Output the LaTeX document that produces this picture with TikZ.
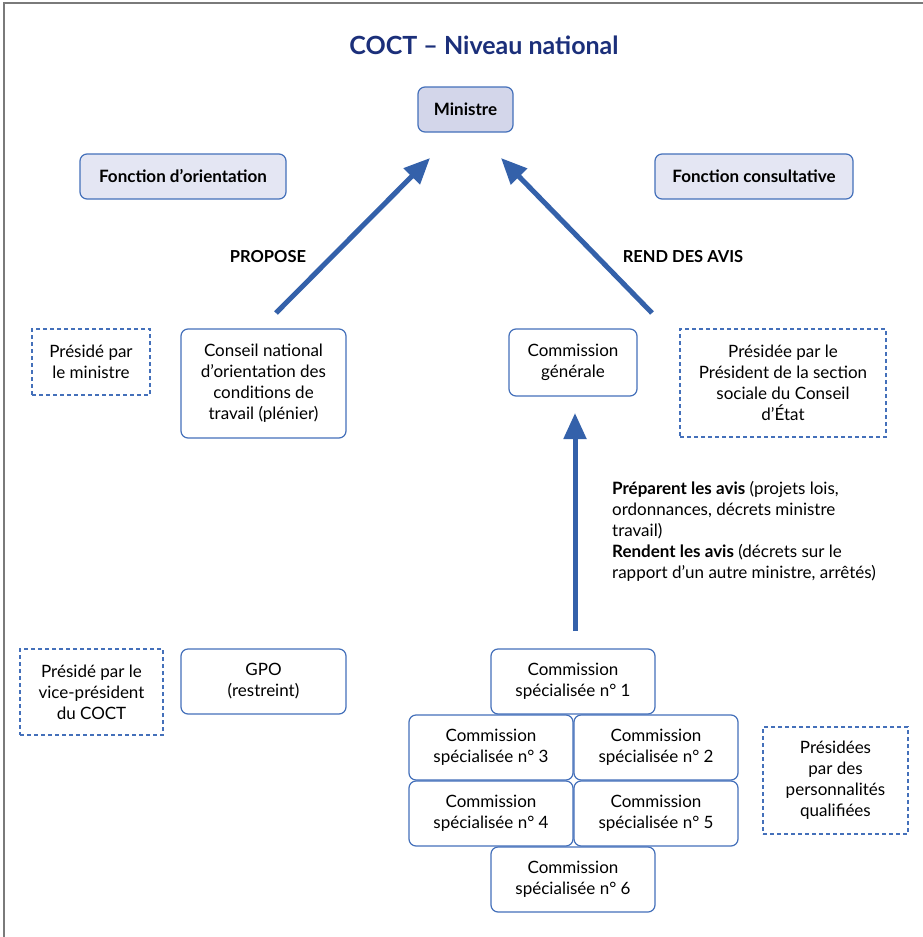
\documentclass[tikz,border=0pt]{standalone}
\usepackage{fontspec}
\setmainfont{Lato}
\usetikzlibrary{arrows.meta}
\definecolor{frameg}{HTML}{7A7A7A}
\definecolor{titleblue}{HTML}{1B2F7A}
\definecolor{boxblue}{HTML}{4470BA}
\definecolor{arrowblue}{HTML}{3461AA}
\definecolor{minfill}{HTML}{D3D6EA}
\definecolor{fonfill}{HTML}{E4E6F3}
\tikzset{
  base/.style={rounded corners=7pt, draw=boxblue, line width=1.2pt, align=center, inner sep=0pt,
    font=\fontsize{17}{21}\selectfont},
  solidbox/.style={base, fill=white},
  headbox/.style={base, fill=fonfill, font=\fontsize{17}{21}\selectfont\bfseries},
  dashbox/.style={draw=boxblue, line width=1.2pt, dash pattern=on 4pt off 3pt, align=center, inner sep=0pt,
    font=\fontsize{17}{21}\selectfont},
  bigarrow/.style={draw=arrowblue, line width=5pt, -{Triangle[width=22pt,length=26pt]}},
  lbl/.style={font=\fontsize{16.5}{20}\selectfont\bfseries, inner sep=0pt}
}
\newcommand{\bx}[6]{\node[#1, minimum width=#4-#2, minimum height=#5-#3] (#6) at ({(#2+#4)/2},{(#3+#5)/2})}
\begin{document}
\begin{tikzpicture}[x=1pt,y=-1pt]
\useasboundingbox (0,0) rectangle (923,937);
\fill[white] (0,0) rectangle (923,937);
\draw[frameg, line width=2pt] (4,937) -- (4,3) -- (923,3);

\node[font=\fontsize{25}{30}\selectfont\bfseries, text=titleblue] (title) at (484,45) {COCT – Niveau national};

\bx{headbox, fill=minfill}{418}{87}{513}{132}{min} {Ministre};
\bx{headbox}{80}{154}{286}{199}{fo} {Fonction d’orientation};
\bx{headbox}{655}{154}{853}{199}{fc} {Fonction consultative};

\bx{dashbox}{32}{329}{150}{395}{pm} {Présidé par\\le ministre};
\bx{solidbox}{181}{329}{346}{438}{cn} {Conseil national\\d’orientation des\\conditions de\\travail (plénier)};
\bx{solidbox}{509}{329}{637}{396}{cg} {Commission\\générale};
\bx{dashbox}{680}{329}{886}{437}{pcg} {Présidée par le\\Président de la section\\sociale du Conseil\\d’État};

\bx{dashbox}{20}{649}{163}{735}{pvp} {Présidé par le\\vice-président\\du COCT};
\bx{solidbox}{181}{649}{346}{714}{gpo} {GPO\\(restreint)};

\bx{solidbox}{491}{649}{655}{714}{cs1} {Commission\\spécialisée n° 1};
\bx{solidbox}{409}{715}{573}{780}{cs3} {Commission\\spécialisée n° 3};
\bx{solidbox}{574}{715}{738}{780}{cs2} {Commission\\spécialisée n° 2};
\bx{solidbox}{409}{781}{573}{846}{cs4} {Commission\\spécialisée n° 4};
\bx{solidbox}{574}{781}{738}{846}{cs5} {Commission\\spécialisée n° 5};
\bx{solidbox}{491}{847}{655}{912}{cs6} {Commission\\spécialisée n° 6};
\bx{dashbox}{763}{727}{908}{834}{pq} {Présidées\\par des\\personnalités\\qualifiées};

\coordinate (a1s) at (276,313);
\coordinate (a1e) at (430,158);
\coordinate (a2s) at (652,313);
\coordinate (a2e) at (501,158);
\coordinate (a3s) at (575,631);
\coordinate (a3e) at (575,413);
\draw[bigarrow] (a1s) -- (a1e);
\draw[bigarrow] (a2s) -- (a2e);
\draw[bigarrow] (a3s) -- (a3e);

\node[lbl] (propose) at (268,257) {PROPOSE};
\node[lbl] (rend) at (683,257) {REND DES AVIS};

\node[anchor=north west, inner sep=0pt, align=left, font=\fontsize{17}{21}\selectfont] (txt) at (612,481)
{\textbf{Préparent les avis} (projets lois,\\ordonnances, décrets ministre\\travail)\\\textbf{Rendent les avis} (décrets sur le\\rapport d’un autre ministre, arrêtés)};
\end{tikzpicture}
\end{document}
